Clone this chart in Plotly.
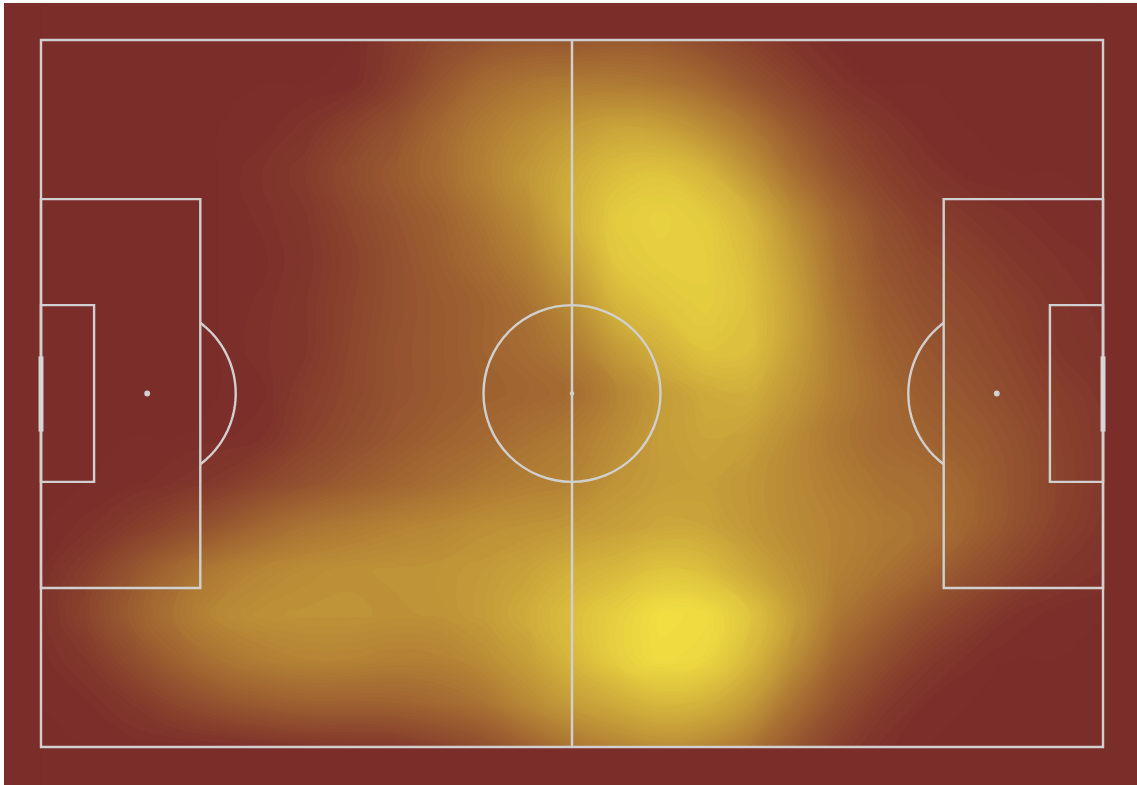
import numpy as np
import plotly.graph_objects as go

# ---------------- data: density (0-10 scale) ----------------
grid_x = [0, 5, 10, 15, 20, 25, 30, 35, 40, 45, 50, 55, 60,
          65, 70, 75, 80, 85, 90, 95, 100, 105, 110, 115, 120]
grid_y = [0, 5, 10, 15, 20, 25, 30, 35, 40, 45, 50, 55, 60, 65, 70, 75, 80]

density = [
    # y = 0
    [0, 0, 0, 0, 0, 0, 0, 0, 0.8, 1.5, 2.0, 2.3, 2.3, 2.5, 2.3, 1.7, 1.1, 0.4, 0, 0, 0, 0, 0, 0, 0],
    # y = 5
    [0, 0, 0, 0, 0, 0, 0, 0.1, 1.0, 2.3, 3.4, 4.0, 4.3, 4.3, 4.0, 3.3, 2.2, 1.3, 0.4, 0, 0, 0, 0, 0, 0],
    # y = 10
    [0, 0, 0, 0, 0, 0.05, 0.4, 1.2, 2.0, 3.2, 4.3, 5.2, 6.0, 6.6, 6.4, 5.4, 4.1, 2.5, 1.3, 0.6, 0.05, 0, 0, 0, 0],
    # y = 15
    [0, 0, 0, 0, 0, 0.3, 0.8, 1.7, 2.5, 3.4, 4.6, 5.8, 7.0, 8.0, 8.3, 7.6, 5.8, 3.7, 2.1, 1.1, 0.5, 0.05, 0, 0, 0],
    # y = 20
    [0, 0, 0, 0, 0, 0.2, 0.6, 1.4, 2.2, 2.9, 4.0, 5.3, 7.2, 8.7, 9.1, 8.7, 7.5, 5.2, 3.2, 1.8, 1.0, 0.6, 0.3, 0.05, 0],
    # y = 25
    [0, 0, 0, 0, 0, 0.1, 0.5, 1.2, 2.0, 2.7, 3.5, 4.6, 6.4, 8.5, 8.9, 8.9, 8.0, 6.0, 3.7, 2.2, 1.5, 1.1, 0.6, 0.3, 0.1],
    # y = 30
    [0, 0, 0, 0, 0, 0.2, 0.6, 1.3, 2.0, 2.5, 3.0, 3.8, 5.3, 7.5, 8.4, 8.8, 8.2, 6.4, 4.1, 2.6, 1.9, 1.5, 1.0, 0.5, 0.2],
    # y = 35
    [0, 0, 0, 0, 0, 0.25, 0.6, 1.4, 2.1, 2.5, 3.0, 3.5, 4.3, 6.0, 7.3, 8.3, 8.1, 6.3, 4.4, 3.0, 2.3, 1.8, 1.3, 0.6, 0.3],
    # y = 40
    [0, 0, 0, 0, 0, 0.1, 0.9, 1.5, 2.1, 2.5, 2.9, 3.1, 3.5, 4.8, 6.1, 6.9, 7.1, 5.8, 4.4, 3.4, 2.6, 2.2, 1.6, 1.0, 0.5],
    # y = 45
    [0, 0, 0, 0, 0.1, 0.3, 1.2, 1.8, 2.4, 2.9, 3.3, 3.8, 4.3, 5.2, 6.2, 6.6, 6.3, 5.2, 4.1, 3.4, 3.0, 2.6, 2.0, 1.2, 0.6],
    # y = 50
    [0, 0, 0.05, 0.3, 0.7, 1.4, 2.0, 2.6, 3.1, 3.6, 4.1, 4.5, 4.8, 5.7, 6.2, 6.3, 5.8, 5.1, 4.4, 3.8, 3.6, 3.0, 2.1, 1.3, 0.6],
    # y = 55
    [0, 0.2, 0.8, 1.5, 2.3, 3.2, 3.9, 4.3, 4.7, 5.0, 5.4, 5.6, 5.9, 6.3, 6.7, 6.6, 5.9, 5.2, 4.7, 4.2, 3.8, 3.0, 2.0, 1.1, 0.5],
    # y = 60
    [0.1, 0.9, 2.1, 3.3, 4.3, 4.9, 5.3, 5.5, 5.6, 5.7, 6.0, 6.5, 7.2, 7.7, 8.3, 8.0, 6.8, 5.6, 4.6, 3.9, 3.1, 2.1, 1.3, 0.6, 0.3],
    # y = 65
    [0.2, 1.2, 2.6, 3.9, 5.0, 5.5, 5.6, 5.6, 5.5, 5.6, 6.1, 7.0, 8.0, 8.9, 9.8, 9.7, 8.4, 6.2, 4.1, 2.9, 1.8, 1.0, 0.3, 0.05, 0],
    # y = 70
    [0.05, 0.6, 1.7, 2.9, 3.9, 4.5, 4.8, 4.8, 4.6, 4.7, 5.3, 6.3, 7.6, 8.9, 9.7, 9.4, 7.8, 5.4, 3.1, 1.8, 0.8, 0.2, 0, 0, 0],
    # y = 75
    [0, 0.1, 0.6, 1.4, 2.1, 2.6, 2.9, 2.9, 3.0, 3.3, 3.9, 5.1, 6.2, 7.0, 7.7, 7.4, 6.1, 3.8, 2.0, 0.8, 0.15, 0, 0, 0, 0],
    # y = 80
    [0, 0, 0, 0, 0.1, 0.3, 0.5, 0.6, 0.7, 1.2, 1.8, 2.9, 4.0, 4.8, 5.3, 5.0, 4.0, 2.3, 1.0, 0.2, 0, 0, 0, 0, 0],
]

# ---------------- pitch geometry (StatsBomb 120 x 80) ----------------
PITCH_L = 120
PITCH_W = 80
BOX_D = 18
BOX_Y0, BOX_Y1 = 18, 62
SIX_D = 6
SIX_Y0, SIX_Y1 = 30, 50
SPOT_D = 12
CIRCLE_R = 10
GOAL_Y0, GOAL_Y1 = 36, 44

BG = "#7b2d2a"
LINE_COLOR = "#d0d0d0"
LINE = dict(color=LINE_COLOR, width=2.4)

fig = go.Figure()
fig.add_trace(go.Contour(
    x=grid_x, y=grid_y, z=density,
    zmin=0, zmax=10,
    contours=dict(coloring="fill", start=0.0, end=10.0, size=0.15, showlines=False),
    line=dict(width=0, smoothing=1.3),
    colorscale=[[0, BG], [1, "#f2e042"]],
    showscale=False, hoverinfo="skip",
))

shapes = []
# mask heat outside the pitch
for (x0, x1, y0, y1) in [(-20, 0, -20, 100), (PITCH_L, PITCH_L + 20, -20, 100),
                         (0, PITCH_L, -20, 0), (0, PITCH_L, PITCH_W, PITCH_W + 20)]:
    shapes.append(dict(type="rect", x0=x0, x1=x1, y0=y0, y1=y1,
                       fillcolor=BG, line=dict(width=0), layer="above"))

# outline and halfway line
shapes.append(dict(type="rect", x0=0, x1=PITCH_L, y0=0, y1=PITCH_W, line=LINE, layer="above"))
shapes.append(dict(type="line", x0=PITCH_L / 2, x1=PITCH_L / 2, y0=0, y1=PITCH_W, line=LINE, layer="above"))
# centre circle and spot
cx, cy = PITCH_L / 2, PITCH_W / 2
shapes.append(dict(type="circle", x0=cx - CIRCLE_R, x1=cx + CIRCLE_R, y0=cy - CIRCLE_R, y1=cy + CIRCLE_R,
                   line=LINE, layer="above"))
shapes.append(dict(type="circle", x0=cx - 0.25, x1=cx + 0.25, y0=cy - 0.25, y1=cy + 0.25,
                   fillcolor=LINE_COLOR, line=dict(width=0), layer="above"))

for side in (0, 1):
    if side == 0:
        bx0, bx1 = 0, BOX_D
        sx0, sx1 = 0, SIX_D
        spot = SPOT_D
        gx = 0
    else:
        bx0, bx1 = PITCH_L - BOX_D, PITCH_L
        sx0, sx1 = PITCH_L - SIX_D, PITCH_L
        spot = PITCH_L - SPOT_D
        gx = PITCH_L
    shapes.append(dict(type="rect", x0=bx0, x1=bx1, y0=BOX_Y0, y1=BOX_Y1, line=LINE, layer="above"))
    shapes.append(dict(type="rect", x0=sx0, x1=sx1, y0=SIX_Y0, y1=SIX_Y1, line=LINE, layer="above"))
    shapes.append(dict(type="circle", x0=spot - 0.33, x1=spot + 0.33, y0=cy - 0.33, y1=cy + 0.33,
                       fillcolor=LINE_COLOR, line=dict(width=0), layer="above"))
    # penalty arc
    half = np.arccos((BOX_D - SPOT_D) / CIRCLE_R)
    t = np.linspace(-half, half, 60)
    if side == 0:
        ax = spot + CIRCLE_R * np.cos(t)
    else:
        ax = spot - CIRCLE_R * np.cos(t)
    ay = cy + CIRCLE_R * np.sin(t)
    path = "M " + " L ".join(f"{a:.3f},{b:.3f}" for a, b in zip(ax, ay))
    shapes.append(dict(type="path", path=path, line=LINE, layer="above"))
    # goal
    shapes.append(dict(type="rect", x0=gx - 0.28, x1=gx + 0.28, y0=GOAL_Y0 - 0.2, y1=GOAL_Y1 + 0.3,
                       fillcolor="#d6d6d6", line=dict(width=0), layer="above"))

fig.update_layout(
    width=1137, height=785,
    margin=dict(l=4, r=0, t=3, b=0),
    paper_bgcolor="white",
    plot_bgcolor=BG,
    shapes=shapes,
    showlegend=False,
)
fig.update_xaxes(range=[-4.18, 123.84], visible=False, showgrid=False, zeroline=False, fixedrange=True)
fig.update_yaxes(range=[84.30, -4.19], visible=False, showgrid=False, zeroline=False, fixedrange=True)

fig.write_html(
    "out.html",
    config={"displayModeBar": False, "responsive": False},
    post_script="document.body.style.margin='0';document.body.style.overflow='hidden';",
)
